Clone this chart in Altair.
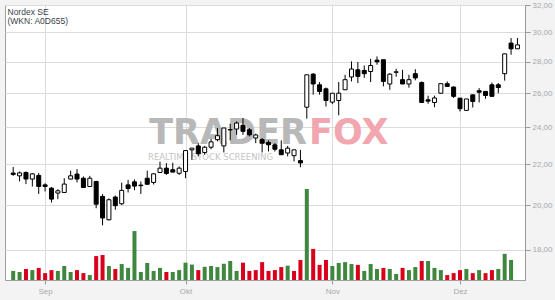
import altair as alt
import pandas as pd

# ---- data (trading-day index 0 = 25 Aug 2025) ----
opens = [21.56, 21.42, 21.59, 21.26, 21.44, 20.97, 20.81, 20.57, 20.60, 21.26,
         21.51, 21.30, 20.89, 21.14, 20.41, 19.32, 20.38, 20.06, 20.97, 21.12,
         20.96, 21.30, 21.09, 21.59, 21.81, 21.73, 21.55, 21.64, 22.77, 22.98,
         22.63, 22.91, 23.32, 22.98, 23.86, 23.91, 24.12, 23.87, 23.41, 23.32,
         23.17, 23.04, 22.77, 22.60, 22.46, 22.20, 25.17, 27.20, 26.53, 26.28,
         25.47, 25.57, 26.22, 27.02, 27.48, 27.44, 27.37, 28.11, 28.14, 26.58,
         27.32, 26.85, 26.58, 27.23, 26.67, 25.61, 25.45, 26.01, 26.60, 26.39,
         25.71, 24.98, 25.91, 26.16, 26.12, 26.53, 26.53, 27.23, 29.26, 28.87]
highs = [21.87, 21.64, 21.64, 21.56, 21.56, 21.05, 20.86, 20.76, 21.30, 21.68,
         21.76, 21.39, 21.42, 21.17, 20.52, 20.31, 20.45, 21.08, 21.22, 21.24,
         21.14, 21.68, 21.56, 22.15, 22.07, 22.09, 21.90, 22.73, 22.86, 23.12,
         22.98, 23.36, 23.97, 23.97, 24.21, 24.34, 24.54, 23.97, 23.65, 23.41,
         23.28, 23.13, 23.28, 22.98, 22.77, 22.77, 27.16, 27.27, 26.70, 26.36,
         26.01, 26.70, 27.16, 28.03, 27.99, 27.76, 28.20, 28.36, 28.14, 27.27,
         27.55, 27.48, 27.16, 27.52, 26.74, 25.86, 25.86, 26.60, 26.74, 26.43,
         25.72, 25.66, 25.92, 26.32, 26.13, 26.67, 26.64, 28.53, 29.61, 29.61]
lows = [21.42, 21.14, 21.01, 20.89, 20.53, 20.65, 20.12, 20.28, 20.57, 21.24,
        21.09, 20.82, 20.87, 19.85, 19.07, 19.29, 19.78, 20.00, 20.60, 20.71,
        20.53, 20.98, 20.99, 21.58, 21.47, 21.60, 21.47, 21.30, 22.24, 22.42,
        22.51, 22.80, 23.23, 22.63, 23.28, 23.59, 23.59, 23.50, 23.13, 22.63,
        22.68, 22.68, 22.50, 22.42, 22.16, 21.86, 24.50, 25.92, 25.92, 25.21,
        25.35, 24.69, 26.20, 26.74, 26.64, 26.96, 26.70, 27.81, 26.43, 26.22,
        27.04, 26.57, 26.35, 26.81, 25.43, 25.37, 25.17, 26.00, 26.39, 25.72,
        24.92, 24.96, 25.15, 25.45, 25.67, 25.81, 26.01, 26.79, 28.47, 28.86]
closes = [21.49, 21.57, 21.26, 21.52, 20.89, 20.89, 20.28, 20.68, 21.01, 21.42,
          21.26, 20.84, 21.30, 20.04, 19.40, 20.25, 19.97, 20.70, 20.79, 20.91,
          20.93, 21.00, 21.52, 21.81, 21.54, 21.61, 21.81, 22.73, 22.86, 22.56,
          22.91, 23.20, 23.54, 23.97, 23.88, 24.25, 23.78, 23.59, 23.58, 23.13,
          23.04, 22.80, 22.51, 22.86, 22.77, 22.08, 27.16, 26.58, 26.12, 25.57,
          26.01, 26.01, 26.85, 27.53, 27.06, 27.23, 27.76, 28.00, 26.74, 27.20,
          27.35, 26.58, 26.85, 26.96, 25.45, 25.53, 25.72, 26.60, 26.43, 25.82,
          25.08, 25.66, 25.51, 26.07, 25.87, 25.82, 26.36, 28.53, 28.87, 29.14]
volumes = [0.33, 0.29, 0.40, 0.36, 0.44, 0.25, 0.36, 0.33, 0.51, 0.29,
           0.36, 0.25, 0.18, 0.87, 0.91, 0.51, 0.40, 0.58, 0.44, 1.78,
           0.29, 0.62, 0.33, 0.44, 0.29, 0.29, 0.36, 0.63, 0.56, 0.36,
           0.48, 0.51, 0.47, 0.59, 0.69, 0.33, 0.63, 0.33, 0.36, 0.65,
           0.33, 0.36, 0.47, 0.52, 0.33, 0.73, 3.31, 1.13, 0.55, 0.73,
           0.51, 0.62, 0.65, 0.58, 0.55, 0.33, 0.58, 0.40, 0.44, 0.40,
           0.22, 0.44, 0.36, 0.47, 0.69, 0.69, 0.44, 0.36, 0.18, 0.25,
           0.36, 0.40, 0.25, 0.36, 0.25, 0.36, 0.40, 0.95, 0.73]
vol_up = [1, 1, 0, 1, 0, 0, 0, 1, 1, 1,
          0, 0, 1, 0, 0, 1, 0, 1, 1, 1,
          1, 1, 1, 1, 0, 1, 1, 1, 1, 0,
          1, 1, 1, 1, 1, 1, 0, 0, 0, 0,
          0, 0, 0, 1, 0, 0, 1, 0, 0, 0,
          1, 1, 1, 1, 0, 1, 1, 1, 0, 1,
          1, 0, 1, 1, 0, 1, 1, 1, 0, 0,
          0, 1, 0, 1, 0, 0, 1, 1, 1]
month_idx = [5, 27, 50, 70]
month_lbl = ["Sep", "Okt", "Nov", "Dez"]
price_ticks = [18, 20, 22, 24, 26, 28, 30, 32]

candles = pd.DataFrame({
    "i": list(range(len(opens))),
    "open": opens, "high": highs, "low": lows, "close": closes,
})
candles["fill"] = ["#ffffff" if c >= o else "#000000" for o, c in zip(opens, closes)]
vol = pd.DataFrame({
    "i": list(range(len(volumes))),
    "v": volumes,
    "col": ["#3f873f" if u else "#d8001b" for u in vol_up],
})

label_expr = " : ".join(
    f"datum.value == {m} ? '{l}'" for m, l in zip(month_idx, month_lbl)
) + " : ''"

xscale = alt.Scale(domain=[-0.5, 79.4], nice=False, zero=False)
xenc = alt.X("i:Q", scale=xscale,
             axis=alt.Axis(values=month_idx, labelExpr=label_expr, title=None,
                           grid=True, gridColor="#dcdcdc", domain=False,
                           tickColor="#999999", tickSize=4, labelColor="#a8a8b0",
                           labelFontSize=8, labelFont="Liberation Sans", labelPadding=3))

pscale = alt.Scale(type="log", domain=[16.77, 32], nice=False, zero=False)
paxis = alt.Axis(orient="right", values=price_ticks, title=None,
                 labelExpr="replace(format(datum.value, '.2f'), '.', ',')",
                 grid=True, gridColor="#dcdcdc", domainColor="#999999",
                 tickColor="#999999", tickSize=5, labelColor="#a8a8b0",
                 labelFontSize=8, labelFont="Liberation Sans", labelPadding=2)

wicks = alt.Chart(candles).mark_rule(color="#000000", strokeWidth=1).encode(
    x=xenc,
    y=alt.Y("low:Q", scale=pscale, axis=paxis),
    y2="high:Q",
)
bodies = alt.Chart(candles).mark_bar(size=4, stroke="#000000", strokeWidth=1).encode(
    x="i:Q",
    y=alt.Y("open:Q", scale=pscale, axis=paxis),
    y2="close:Q",
    fill=alt.Fill("fill:N", scale=None),
)
price = alt.layer(wicks, bodies)

volbars = alt.Chart(vol).mark_bar(size=4).encode(
    x=xenc,
    y=alt.Y("v:Q", scale=alt.Scale(domain=[0, 10], nice=False), axis=None),
    color=alt.Color("col:N", scale=None),
)

def txt(s, x, y, **kw):
    return alt.Chart(pd.DataFrame({"t": [s]})).mark_text(**kw).encode(
        x=alt.value(x), y=alt.value(y), text="t:N")

wm1 = txt("TRADER", 302, 139, align="right", baseline="alphabetic", fontSize=35,
          font="DejaVu Sans", fontWeight="bold", color="#b8b8b8")
wm2 = txt("FOX", 304, 139, align="left", baseline="alphabetic", fontSize=35,
          font="DejaVu Sans", fontWeight="bold", color="#f2a7b0")
wm3 = txt("REALTIME STOCK SCREENING", 143, 155, align="left", baseline="alphabetic",
          fontSize=8.5, font="DejaVu Sans", color="#c4c4c4")
t1 = txt("Nordex SE", 2.5, 9.5, align="left", baseline="alphabetic", fontSize=8.5,
         font="Liberation Sans", color="#3a3f48")
t2 = txt("(WKN: A0D655)", 2.5, 19, align="left", baseline="alphabetic", fontSize=8.5,
         font="Liberation Sans", color="#3a3f48")

chart = alt.layer(wm1, wm2, wm3, volbars, price, t1, t2).resolve_scale(
    y="independent"
).properties(
    width=520, height=275,
    padding={"left": 5, "top": 5, "right": 30, "bottom": 20},
    autosize="none",
    background="#f3f3f3",
).configure_view(
    fill="#ffffff", stroke="#a0a0a0", strokeWidth=1,
)

chart.save("out.html", embed_options={"renderer": "svg", "actions": False})
